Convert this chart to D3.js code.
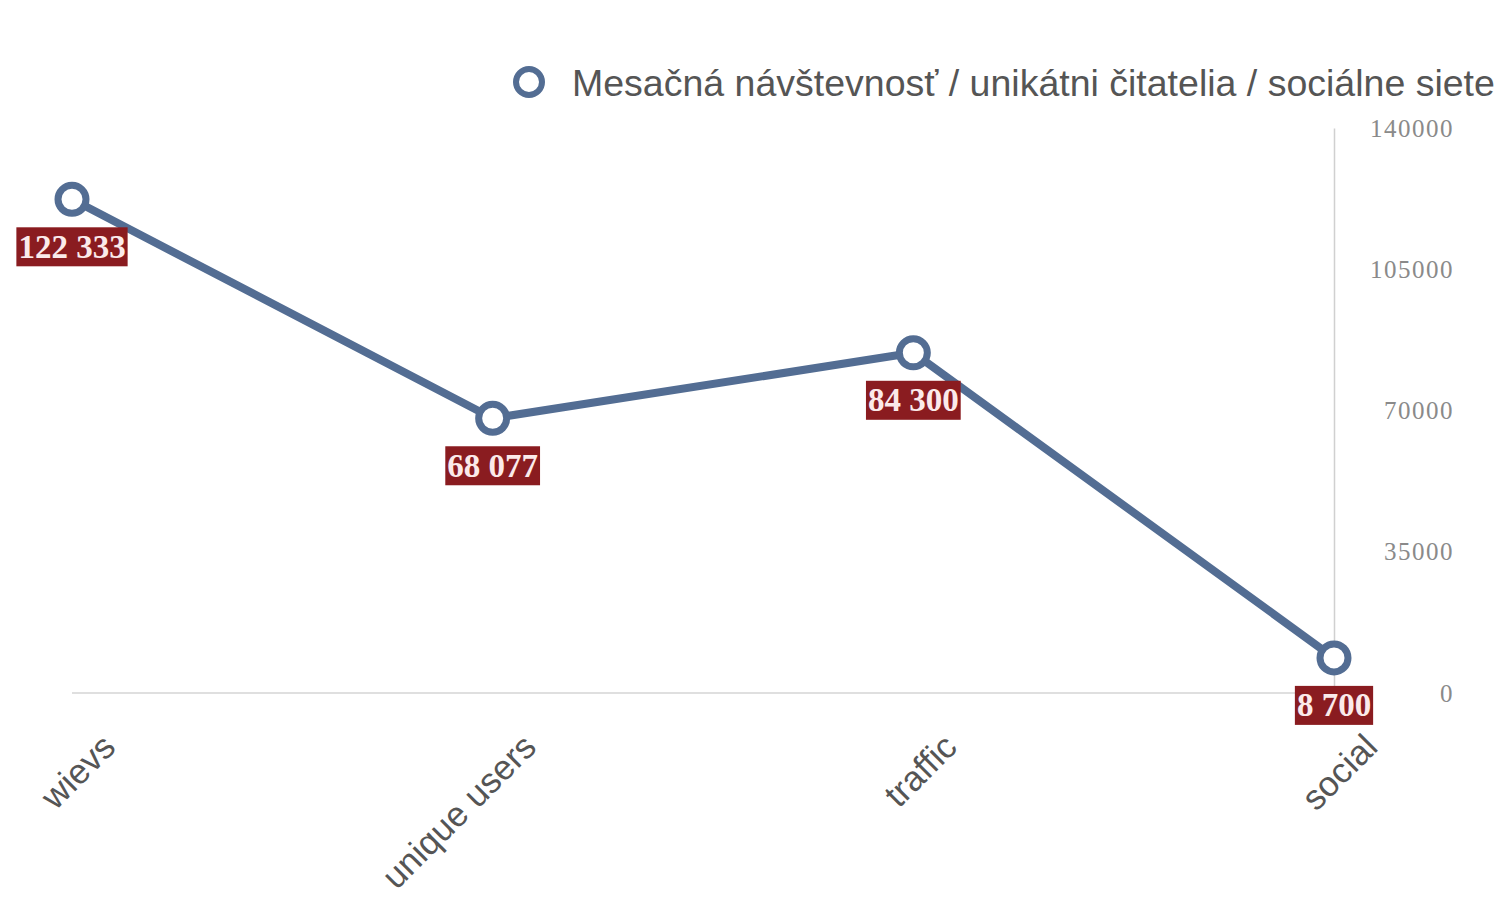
<!DOCTYPE html>
<html>
<head>
<meta charset="utf-8">
<script src="https://cdn.jsdelivr.net/npm/d3@7"></script>
<style>
  body { margin: 0; background: #fff; }
</style>
</head>
<body>
<script>
var categories = ["wievs", "unique users", "traffic", "social"];
var values = [122333, 68077, 84300, 8700];
var yTicks = [0, 35000, 70000, 105000, 140000];
var seriesName = "Mesačná návštevnosť / unikátni čitatelia / sociálne siete";

var width = 1503, height = 899;
var lineColor = "#536d93";

var svg = d3.select("body").append("svg")
    .attr("width", width)
    .attr("height", height);

var x = d3.scalePoint()
    .domain(categories)
    .range([72, 1334]);

var y = d3.scaleLinear()
    .domain([0, 140000])
    .range([693, 128]);

// baseline
svg.append("line")
    .attr("x1", x(categories[0])).attr("x2", x(categories[3]))
    .attr("y1", y(0)).attr("y2", y(0))
    .style("stroke", "#d4d4d4").style("stroke-width", 1.5);

// y axis on the right
var yAxis = d3.axisRight(y).tickValues(yTicks).tickFormat(d3.format("d")).tickSize(0).tickPadding(0);
var gy = svg.append("g")
    .attr("transform", "translate(" + x(categories[3]) + ",0)")
    .call(yAxis);
gy.select(".domain").style("stroke", "#d0d0d0").style("stroke-width", 1.5);
gy.selectAll("text")
    .attr("x", 120)
    .attr("text-anchor", "end")
    .style("font-family", "'Liberation Serif', 'DejaVu Serif', serif")
    .style("font-size", "25px")
    .style("letter-spacing", "1.5px")
    .style("fill", "#8a8a8a");

// x axis labels
var xAxis = d3.axisBottom(x).tickSize(0).tickPadding(0);
var gx = svg.append("g")
    .attr("transform", "translate(0," + y(0) + ")")
    .call(xAxis);
gx.select(".domain").remove();
gx.selectAll("text")
    .attr("x", 0).attr("y", 0).attr("dy", 0)
    .attr("text-anchor", "end")
    .attr("transform", "translate(45,56) rotate(-45)")
    .style("font-family", "'Liberation Sans', Arial, sans-serif")
    .style("font-size", "35px")
    .style("fill", "#555");

// line
var line = d3.line()
    .x(function (d, i) { return x(categories[i]); })
    .y(function (d) { return y(d); });

svg.append("path")
    .datum(values)
    .attr("d", line)
    .style("fill", "none")
    .style("stroke", lineColor)
    .style("stroke-width", 8)
    .style("stroke-linejoin", "round");

// points
svg.selectAll("circle.pt")
    .data(values)
    .enter().append("circle")
    .attr("class", "pt")
    .attr("cx", function (d, i) { return x(categories[i]); })
    .attr("cy", function (d) { return y(d); })
    .attr("r", 14)
    .style("fill", "#fff")
    .style("stroke", lineColor)
    .style("stroke-width", 7);

// value labels
var fmt = function (v) { return d3.format(",")(v).replace(/,/g, " "); };
var lab = svg.selectAll("g.lab")
    .data(values)
    .enter().append("g")
    .attr("class", "lab")
    .attr("transform", function (d, i) {
        return "translate(" + x(categories[i]) + "," + (y(d) + 47) + ")";
    });

lab.append("text")
    .attr("text-anchor", "middle")
    .attr("dy", "0.35em")
    .style("font-family", "'Liberation Serif', 'DejaVu Serif', serif")
    .style("font-weight", "bold")
    .style("font-size", "33px")
    .style("fill", "#fbeaea")
    .text(fmt);

lab.each(function () {
    var g = d3.select(this);
    var bb = g.select("text").node().getBBox();
    g.insert("rect", "text")
        .attr("x", bb.x - 2).attr("y", -19)
        .attr("width", bb.width + 4).attr("height", 39)
        .style("fill", "#8a1c20");
});

// legend
var leg = svg.append("g").attr("transform", "translate(529,82)");
leg.append("circle")
    .attr("r", 13)
    .style("fill", "#fff")
    .style("stroke", lineColor)
    .style("stroke-width", 6);
leg.append("text")
    .attr("x", 43)
    .attr("dy", "0.36em")
    .style("font-family", "'Liberation Sans', Arial, sans-serif")
    .style("font-size", "37.5px")
    .style("fill", "#555")
    .text(seriesName);
</script>
</body>
</html>
